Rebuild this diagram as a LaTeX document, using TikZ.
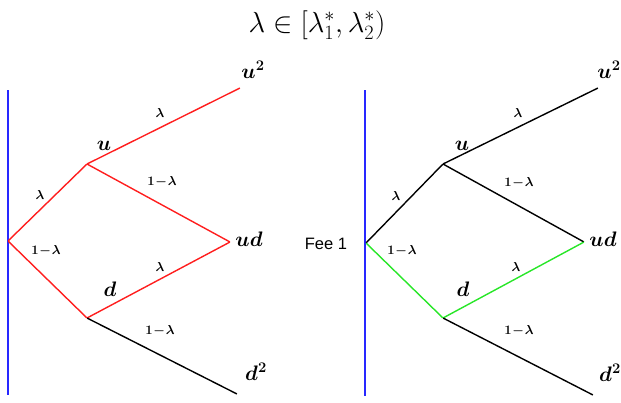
\documentclass[tikz,border=0pt]{standalone}
\usepackage{fix-cm}
\usepackage{fontspec}
\usepackage{amsmath}
\definecolor{axisblue}{RGB}{40,40,255}
\definecolor{pathred}{RGB}{255,30,30}
\definecolor{pathgreen}{RGB}{40,230,40}
\begin{document}
\begin{tikzpicture}[x=1pt,y=-1pt,
  edge/.style={line width=1.4pt},
  axis/.style={axisblue,line width=1.5pt},
  big/.style={font=\fontsize{21}{21}\selectfont\boldmath, inner sep=0pt},
  small/.style={font=\fontsize{13}{13}\selectfont\boldmath, inner sep=0pt},
  pt/.style={inner sep=0pt, minimum size=0pt}]
\useasboundingbox (0,0) rectangle (621,402);
\node[font=\fontsize{29}{29}\selectfont, inner sep=0pt] (title) at (317,25) {$\lambda\in[\lambda^*_1,\lambda^*_2)$};
% left tree
\coordinate (Ltop) at (8,90);
\coordinate (Lbot) at (8,395);
\node[pt] (L0) at (8,241) {};
\node[pt] (Lu) at (87,164) {};
\node[pt] (Luu) at (240,88) {};
\node[pt] (Lud) at (230,242) {};
\node[pt] (Ld) at (87,318) {};
\node[pt] (Ldd) at (237,394) {};
\draw[axis] (Ltop) -- (Lbot);
\draw[edge,pathred] (L0) -- (Lu) -- (Luu);
\draw[edge,pathred] (Lu) -- (Lud) -- (Ld) -- (L0);
\draw[edge,black] (Ld) -- (Ldd);
\node[big] (Lulab) at (104,146) {$u$};
\node[big] (Luulab) at (253,70) {$u^2$};
\node[big] (Ludlab) at (249,239) {$ud$};
\node[big] (Ldlab) at (110,289) {$d$};
\node[big] (Lddlab) at (256,372) {$d^2$};
\node[small] (La) at (160,113) {$\lambda$};
\node[small] (Lb) at (162,182) {$1\!-\!\lambda$};
\node[small] (Lc) at (40,195) {$\lambda$};
\node[small] (Ld1) at (46,251) {$1\!-\!\lambda$};
\node[small] (Le) at (160,267) {$\lambda$};
\node[small] (Lf) at (160,331) {$1\!-\!\lambda$};
% right tree
\coordinate (Rtop) at (365,90);
\coordinate (Rbot) at (365,396);
\node[pt] (R0) at (366,243) {};
\node[pt] (Ru) at (443,164) {};
\node[pt] (Ruu) at (598,88) {};
\node[pt] (Rud) at (584,242) {};
\node[pt] (Rd) at (443,318) {};
\node[pt] (Rdd) at (593,395) {};
\draw[axis] (Rtop) -- (Rbot);
\draw[edge,black] (R0) -- (Ru) -- (Ruu);
\draw[edge,black] (Ru) -- (Rud);
\draw[edge,pathgreen] (R0) -- (Rd) -- (Rud);
\draw[edge,black] (Rd) -- (Rdd);
\node[font=\fontsize{16.5}{16.5}\selectfont\fontspec{Liberation Sans}, inner sep=0pt] (fee) at (326,244) {Fee 1};
\node[big] (Rulab) at (462,146) {$u$};
\node[big] (Ruulab) at (609,70) {$u^2$};
\node[big] (Rudlab) at (603,239) {$ud$};
\node[big] (Rdlab) at (463,289) {$d$};
\node[big] (Rddlab) at (610,373) {$d^2$};
\node[small] (Ra) at (518,113) {$\lambda$};
\node[small] (Rb) at (519,183) {$1\!-\!\lambda$};
\node[small] (Rc) at (396,196) {$\lambda$};
\node[small] (Rd1) at (402,251) {$1\!-\!\lambda$};
\node[small] (Re) at (516,267) {$\lambda$};
\node[small] (Rf) at (519,331) {$1\!-\!\lambda$};
\end{tikzpicture}
\end{document}
